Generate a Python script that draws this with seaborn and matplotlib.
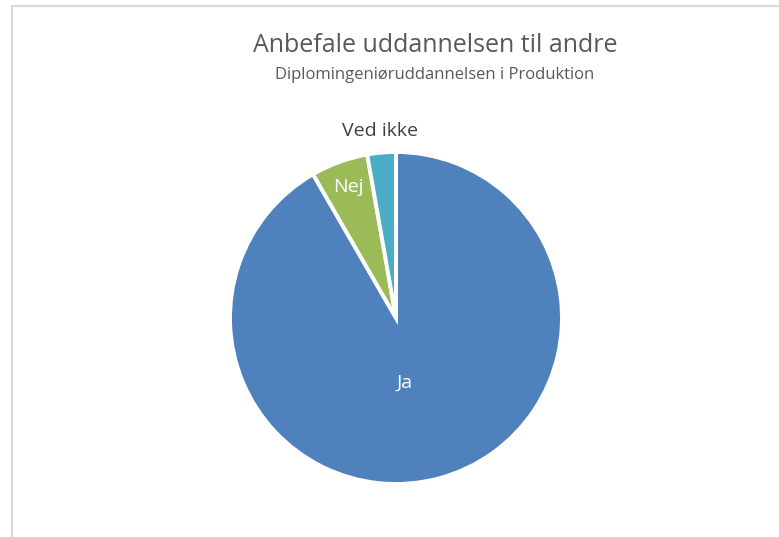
import matplotlib
matplotlib.use("Agg")
import matplotlib.pyplot as plt
import matplotlib.patches as patches
import seaborn as sns
import numpy as np

# -------------------------
# DATA
# -------------------------
categories = ["Ja", "Nej", "Ved ikke"]
counts = [33, 2, 1]
colors = ["#4f81bd", "#9bbb59", "#4bacc6"]
label_colors = ["white", "white", "#404040"]
label_distances = [0.4, 0.84, 1.13]

title = "Anbefale uddannelsen til andre"
subtitle = "Diplomingeniøruddannelsen i Produktion"

sns.set_theme(style="white")
plt.rcParams["font.family"] = ["Open Sans", "DejaVu Sans"]

fig = plt.figure(figsize=(7.79, 5.37), dpi=100)
fig.patch.set_facecolor("white")

# chart border (Excel style frame)
fig.patches.append(patches.Rectangle(
    (12 / 779, -0.01), 1.0, 1 - 6 / 537 + 0.01,
    transform=fig.transFigure, fill=False,
    edgecolor="#d9d9d9", linewidth=1.5, zorder=0))

ax = fig.add_axes([230 / 779, 53 / 537, 332 / 779, 332 / 537])
wedges, texts = ax.pie(
    counts,
    labels=categories,
    colors=colors,
    startangle=90,
    counterclock=False,
    labeldistance=1.0,
    wedgeprops=dict(edgecolor="white", linewidth=2.8),
    textprops=dict(fontsize=14),
)
ax.set_xlim(-1, 1)
ax.set_ylim(-1, 1)
ax.set_aspect("equal")

for w, t, c, d in zip(wedges, texts, label_colors, label_distances):
    mid = np.deg2rad((w.theta1 + w.theta2) / 2)
    t.set_position((d * np.cos(mid), d * np.sin(mid)))
    t.set_color(c)
    t.set_ha("center")
    t.set_va("center")
# Ja label sits nearer the centre, below it
texts[0].set_position((0.054, -0.39))

fig.text(435 / 779, 1 - 46 / 537, title, ha="center", va="center",
         fontsize=18, color="#595959")
fig.text(435 / 779, 1 - 75 / 537, subtitle, ha="center", va="center",
         fontsize=12, color="#595959")

fig.savefig("out.png", dpi=100)
